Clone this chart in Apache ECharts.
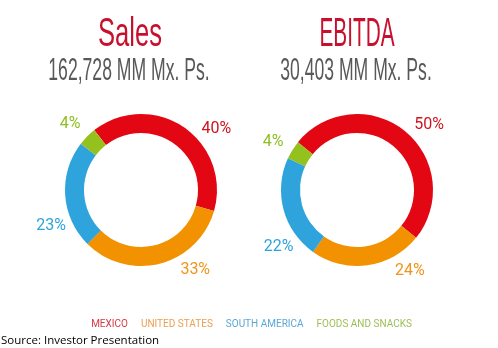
<!DOCTYPE html>
<html><head><meta charset="utf-8">
<script src="https://cdn.jsdelivr.net/npm/echarts@6/dist/echarts.min.js"></script>
<style>html,body{margin:0;padding:0;background:#fff}#c{width:498px;height:348px}</style>
</head><body><div id="c"></div>
<script>
const categories = ['MEXICO', 'UNITED STATES', 'SOUTH AMERICA', 'FOODS AND SNACKS'];
const salesShare = [40, 33, 23, 4];
const ebitdaShare = [50, 24, 22, 4];
const chartTitles = ['Sales', 'EBITDA'];
const chartSubtitles = ['162,728 MM Mx. Ps.', '30,403 MM Mx. Ps.'];
const sourceNote = 'Source: Investor Presentation';

// styling
const sliceColors = ['#e30613', '#f39200', '#2ea3dc', '#95c11f'];
const labelColors = ['#cf1420', '#ef9418', '#2ea3dc', '#8fbf22'];
const legendColors = ['#d83a44', '#e9a050', '#5aa8d4', '#9cbf55'];
// label directions (degrees clockwise from 12 o'clock) and distance from centre
const salesLabelAngles = [51, 146, 248, 313];
const ebitdaLabelAngles = [48, 147, 234, 300];
const labelRadius = 97;

function pieSeries(name, values, cx, startAngle, labelAngles) {
  return {
    type: 'pie', name: name,
    center: [cx, 190], radius: [57, 76],
    startAngle: startAngle, clockwise: true,
    avoidLabelOverlap: false,
    emphasis: { disabled: true },
    label: {
      show: true, position: 'outside', formatter: '{c}%',
      fontFamily: 'Roboto, sans-serif', fontSize: 16
    },
    labelLine: { show: false, length: 8, length2: 0 },
    labelLayout: function (p) {
      const a = labelAngles[p.dataIndex] * Math.PI / 180;
      return {
        x: cx + labelRadius * Math.sin(a),
        y: 190 - labelRadius * Math.cos(a),
        align: 'center', verticalAlign: 'middle'
      };
    },
    data: categories.map((c, i) => ({
      name: c, value: values[i],
      itemStyle: { color: sliceColors[i] },
      label: { color: labelColors[i] }
    }))
  };
}

function titleText(text, cx, y, size, color, sx) {
  return {
    type: 'text', x: cx, y: y, scaleX: sx, silent: true,
    style: { text: text, fill: color, textAlign: 'center', textVerticalAlign: 'top',
      font: size + 'px "Liberation Sans", Arial, sans-serif' }
  };
}

const chart = echarts.init(document.getElementById('c'), null, { renderer: 'canvas' });
chart.setOption({
  animation: false,
  backgroundColor: '#ffffff',
  legend: {
    left: 'center', top: 314, icon: 'none', itemWidth: 0, itemHeight: 0, itemGap: 8,
    selectedMode: false,
    textStyle: { fontFamily: 'Roboto, sans-serif', fontSize: 10 },
    data: categories.map((c, i) => ({ name: c, textStyle: { color: legendColors[i] } }))
  },
  graphic: [
    titleText(chartTitles[0], 130, 15, 40, '#c8102e', 0.64),
    titleText(chartSubtitles[0], 129, 55, 32, '#58585a', 0.55),
    titleText(chartTitles[1], 357, 15, 40, '#c8102e', 0.52),
    titleText(chartSubtitles[1], 356, 55, 32, '#58585a', 0.55),
    { type: 'text', left: 1, top: 335, silent: true,
      style: { text: sourceNote, fill: '#000', font: '11.5px "Open Sans", "Liberation Sans", sans-serif' } }
  ],
  series: [
    pieSeries(chartTitles[0], salesShare, 141, 128, salesLabelAngles),
    pieSeries(chartTitles[1], ebitdaShare, 357, 141, ebitdaLabelAngles)
  ]
});
</script>
</body></html>
